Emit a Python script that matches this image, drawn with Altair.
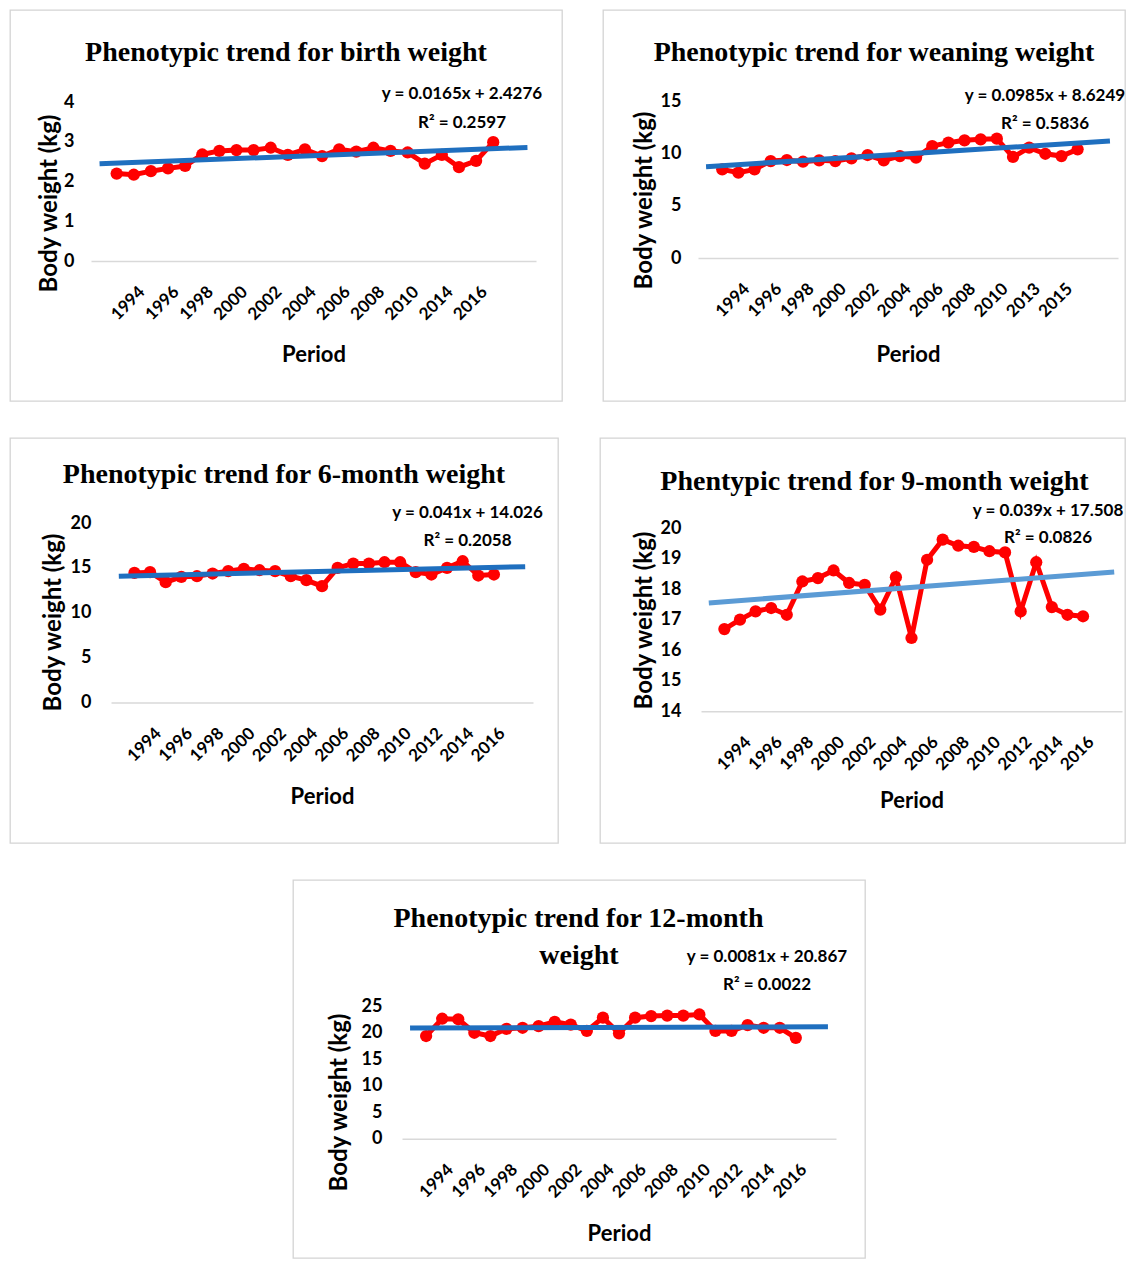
import json
import altair as alt
import pandas as pd

# ---------------- data ----------------
# Birth weight
p1_years = [1993, 1994, 1995, 1996, 1997, 1998, 1999, 2000, 2001, 2002, 2003, 2004,
            2005, 2006, 2007, 2008, 2009, 2010, 2013, 2014, 2015, 2016, 2017]
p1_vals = [2.20, 2.17, 2.26, 2.33, 2.39, 2.68, 2.77, 2.79, 2.79, 2.85, 2.67, 2.81,
           2.64, 2.81, 2.75, 2.85, 2.77, 2.73, 2.45, 2.67, 2.36, 2.52, 2.99]
p1_ticks = ["1994", "1996", "1998", "2000", "2002", "2004", "2006", "2008", "2010", "2014", "2016"]
p1_trend = (0.0165, 2.4276)
p1_eq = ["y = 0.0165x + 2.4276", "R² = 0.2597"]
p1_title = ["Phenotypic trend for birth weight"]

# Weaning weight
p2_years = [1993, 1994, 1995, 1996, 1997, 1998, 1999, 2000, 2001, 2002, 2003, 2004,
            2005, 2006, 2007, 2008, 2009, 2010, 2012, 2013, 2014, 2015, 2016]
p2_vals = [8.47, 8.15, 8.47, 9.26, 9.36, 9.20, 9.33, 9.26, 9.52, 9.84, 9.33, 9.74,
           9.58, 10.70, 11.02, 11.24, 11.34, 11.40, 9.65, 10.54, 9.96, 9.74, 10.38]
p2_ticks = ["1994", "1996", "1998", "2000", "2002", "2004", "2006", "2008", "2010", "2013", "2015"]
p2_trend = (0.0985, 8.6249)
p2_eq = ["y = 0.0985x + 8.6249", "R² = 0.5836"]
p2_title = ["Phenotypic trend for weaning weight"]

# 6-month weight
p3_years = [1993, 1994, 1995, 1996, 1997, 1998, 1999, 2000, 2001, 2002, 2003, 2004,
            2005, 2006, 2007, 2008, 2009, 2010, 2011, 2012, 2013, 2014, 2015, 2016]
p3_vals = [14.44, 14.52, 13.41, 14.00, 14.07, 14.37, 14.63, 14.89, 14.74, 14.63, 14.07, 13.63,
           12.96, 15.00, 15.48, 15.48, 15.63, 15.63, 14.52, 14.26, 15.00, 15.74, 14.15, 14.26]
p3_ticks = ["1994", "1996", "1998", "2000", "2002", "2004", "2006", "2008", "2010", "2012", "2014", "2016"]
p3_trend = (0.041, 14.026)
p3_eq = ["y = 0.041x + 14.026", "R² = 0.2058"]
p3_title = ["Phenotypic trend for 6-month weight"]

# 9-month weight
p4_years = list(p3_years)
p4_vals = [16.69, 17.00, 17.27, 17.38, 17.16, 18.25, 18.36, 18.61, 18.20, 18.14, 17.33, 18.39,
           16.40, 18.96, 19.62, 19.42, 19.38, 19.24, 19.20, 17.27, 18.88, 17.41, 17.16, 17.11]
p4_ticks = list(p3_ticks)
p4_trend = (0.039, 17.508)
p4_eq = ["y = 0.039x + 17.508", "R² = 0.0826"]
p4_title = ["Phentypic trend for 9-month weight"]

# 12-month weight
p5_years = list(p3_years)
p5_vals = [19.34, 22.60, 22.50, 19.96, 19.34, 20.70, 20.90, 21.20, 22.00, 21.50, 20.30, 22.80,
           19.85, 22.80, 23.10, 23.20, 23.20, 23.40, 20.30, 20.30, 21.40, 20.90, 20.90, 19.00]
p5_ticks = list(p3_ticks)
p5_trend = (0.0081, 20.867)
p5_eq = ["y = 0.0081x + 20.867", "R² = 0.0022"]
p5_title = ["Phenotypic trend for 12-month", "weight"]

# ---------------- layout (pixels, local to each panel frame) ----------------
L1 = dict(w=552, h=391, ncat=26, xr=[81, 526], yd=[0, 4], yr=[251, 92], yvals=[0, 1, 2, 3, 4],
          yax=81, xay=251, ylp=17, ytx=-42, yty=193, xty=93,
          title_xy=[(276, 43)], eq_xy=[(452, 84), (452, 112.5)], tcolor="#1f6fbf")
L2 = dict(w=522, h=391, ncat=26, xr=[95, 515], yd=[0, 15], yr=[248, 91], yvals=[0, 5, 10, 15],
          yax=95, xay=248, ylp=17, ytx=-54, yty=190, xty=96,
          title_xy=[(271, 43)], eq_xy=[(442, 86), (442, 114)], tcolor="#1f6fbf")
L3 = dict(w=548, h=405, ncat=27, xr=[101, 523], yd=[0, 20], yr=[264.5, 85], yvals=[0, 5, 10, 15, 20],
          yax=101, xay=264.5, ylp=20, ytx=-58, yty=184, xty=93.5,
          title_xy=[(274, 37)], eq_xy=[(457.5, 75), (457.5, 103)], tcolor="#1f6fbf")
L4 = dict(w=525, h=405, ncat=27, xr=[101, 522], yd=[14, 20], yr=[273.3, 90],
          yvals=[14, 15, 16, 17, 18, 19, 20],
          yax=101, xay=273.3, ylp=20, ytx=-57, yty=182, xty=88.7,
          title_xy=[(274.5, 44)], eq_xy=[(448, 73), (448, 100)], tcolor="#5b9bd5")
L5 = dict(w=572, h=378, ncat=27, xr=[109, 543], yd=[0, 25], yr=[258.7, 126],
          yvals=[0, 5, 10, 15, 20, 25],
          yax=109, xay=258.7, ylp=20, ytx=-63, yty=222, xty=95,
          title_xy=[(285.5, 39), (286, 76)], eq_xy=[(474, 77), (474, 105)], tcolor="#1f6fbf")

SANS = "Lato"
SERIF = "Liberation Serif"


def make_panel(title_lines, years, vals, ticks, trend, eq_lines, L):
    n = L["ncat"]
    df = pd.DataFrame({"pos": [i + 2 for i in range(len(years))], "val": vals})
    slope, intercept = trend
    tdf = pd.DataFrame({"pos": [1, n], "val": [slope * 1 + intercept, slope * n + intercept]})
    labels = [""] * (n + 2)
    for i, yr in enumerate(years):
        labels[i + 2] = str(yr)
    tick_pos = [years.index(int(t)) + 2 for t in ticks]
    label_expr = json.dumps(labels) + "[datum.value]"

    xaxis = alt.Axis(values=tick_pos, labelExpr=label_expr, labelAngle=-45, labelAlign="right",
                     labelBaseline="middle", labelPadding=28, labelOffset=8, labelFont=SANS,
                     labelFontSize=17, labelFontWeight="bold", labelColor="black",
                     labelOverlap=False, labelFlush=False, ticks=False, tickSize=0,
                     domain=True, domainColor="#d9d9d9", domainWidth=1.5, grid=False,
                     title="Period", titleFont=SANS, titleFontSize=22, titleFontWeight="bold",
                     titleColor="black", titleY=L["xty"], titleBaseline="middle",
                     offset=L["xay"] - L["h"])
    yaxis = alt.Axis(values=L["yvals"], labelFont=SANS, labelFontSize=18, labelFontWeight="bold",
                     labelColor="black", labelPadding=L["ylp"], ticks=False, tickSize=0,
                     domain=False, grid=False, title="Body weight (kg)", titleFont=SANS,
                     titleFontSize=24, titleFontWeight="bold", titleColor="black",
                     titleAngle=270, titleX=L["ytx"], titleY=L["yty"], titleBaseline="middle",
                     titleAlign="center", offset=-L["yax"])
    x = alt.X("pos:Q", scale=alt.Scale(domain=[0.5, n + 0.5], range=L["xr"], nice=False, zero=False),
              axis=xaxis)
    y = alt.Y("val:Q", scale=alt.Scale(domain=L["yd"], range=L["yr"], nice=False, zero=False),
              axis=yaxis)

    base = alt.Chart(df)
    line = base.mark_line(color="#ff0000", strokeWidth=5).encode(x=x, y=y)
    pts = base.mark_circle(color="#ff0000", size=150, opacity=1).encode(x=x, y=y)
    tline = alt.Chart(tdf).mark_line(color=L["tcolor"], strokeWidth=5).encode(x=x, y=y)

    layers = [line, pts, tline]
    for txt, (tx, ty) in zip(title_lines, L["title_xy"]):
        layers.append(
            alt.Chart(pd.DataFrame({"t": [txt]}))
            .mark_text(font=SERIF, fontSize=28, fontWeight="bold", color="black",
                       align="center", baseline="middle")
            .encode(x=alt.value(tx), y=alt.value(ty), text="t:N"))
    for txt, (tx, ty) in zip(eq_lines, L["eq_xy"]):
        layers.append(
            alt.Chart(pd.DataFrame({"t": [txt]}))
            .mark_text(font=SANS, fontSize=17, fontWeight="bold", color="black",
                       align="center", baseline="middle")
            .encode(x=alt.value(tx), y=alt.value(ty), text="t:N"))
    return alt.layer(*layers).properties(width=L["w"], height=L["h"])


p1 = make_panel(p1_title, p1_years, p1_vals, p1_ticks, p1_trend, p1_eq, L1)
p2 = make_panel(p2_title, p2_years, p2_vals, p2_ticks, p2_trend, p2_eq, L2)
p3 = make_panel(p3_title, p3_years, p3_vals, p3_ticks, p3_trend, p3_eq, L3)
p4 = make_panel(p4_title, p4_years, p4_vals, p4_ticks, p4_trend, p4_eq, L4)
p5 = make_panel(p5_title, p5_years, p5_vals, p5_ticks, p5_trend, p5_eq, L5)

spacer = (alt.Chart(pd.DataFrame({"s": [0]}))
          .mark_point(opacity=0)
          .encode(x=alt.value(100), y=alt.value(5))
          .properties(width=282, height=20, view=alt.ViewBackground(strokeOpacity=0)))

row1 = alt.hconcat(p1, p2, spacing=39)
row2 = alt.hconcat(p3, p4, spacing=40)
row3 = alt.hconcat(spacer, p5, spacing=0)

chart = (alt.vconcat(row1, row2, row3, spacing=35)
         .properties(padding={"left": 1, "top": 1, "right": 0, "bottom": 0}, background="white")
         .configure_view(stroke="#d4d4d4", strokeWidth=1.3))

chart.save("out.html", embed_options={"renderer": "svg", "actions": False})
